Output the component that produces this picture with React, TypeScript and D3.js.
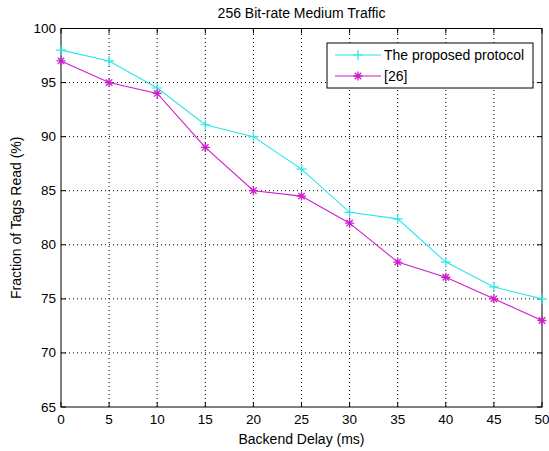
import { useEffect, useRef } from "react";
import * as d3 from "d3";

const delays = [0, 5, 10, 15, 20, 25, 30, 35, 40, 45, 50];
const proposed = [98, 97, 94.5, 91.1, 90, 87, 83, 82.4, 78.4, 76.1, 75];
const ref26 = [97, 95, 94, 89, 85, 84.5, 82, 78.4, 77, 75, 73];
const xTicks = [0, 5, 10, 15, 20, 25, 30, 35, 40, 45, 50];
const yTicks = [65, 70, 75, 80, 85, 90, 95, 100];
const seriesNames = ["The proposed protocol", "[26]"];

const W = 549;
const H = 451;
const margin = { top: 28.5, right: 7, bottom: 44, left: 61 };
const FONT = "'Liberation Sans', Arial, sans-serif";
const CYAN = "#2ae6e6";
const MAGENTA = "#cc1fcc";

export default function App() {
  const ref = useRef<SVGSVGElement>(null);

  useEffect(() => {
    const svg = d3.select(ref.current!);
    svg.selectAll("*").remove();

    const x = d3.scaleLinear().domain([0, 50]).range([margin.left, W - margin.right]);
    const y = d3.scaleLinear().domain([65, 100]).range([H - margin.bottom, margin.top]);
    const [x0, x1] = x.range();
    const [y0, y1] = y.range();

    svg.append("rect").attr("width", W).attr("height", H).attr("fill", "#fff");

    // dotted grid
    const grid = svg.append("g").attr("stroke", "#000").attr("stroke-width", 1).attr("stroke-dasharray", "1,3");
    xTicks.slice(1, -1).forEach(t => {
      grid.append("line").attr("x1", x(t)).attr("x2", x(t)).attr("y1", y0).attr("y2", y1);
    });
    yTicks.slice(1, -1).forEach(t => {
      grid.append("line").attr("x1", x0).attr("x2", x1).attr("y1", y(t)).attr("y2", y(t));
    });

    // inward ticks on all four sides
    const ticks = svg.append("g").attr("stroke", "#000").attr("stroke-width", 1);
    xTicks.forEach(t => {
      ticks.append("line").attr("x1", x(t)).attr("x2", x(t)).attr("y1", y0).attr("y2", y0 - 5);
      ticks.append("line").attr("x1", x(t)).attr("x2", x(t)).attr("y1", y1).attr("y2", y1 + 5);
    });
    yTicks.forEach(t => {
      ticks.append("line").attr("x1", x0).attr("x2", x0 + 5).attr("y1", y(t)).attr("y2", y(t));
      ticks.append("line").attr("x1", x1).attr("x2", x1 - 5).attr("y1", y(t)).attr("y2", y(t));
    });

    svg.append("rect")
      .attr("x", x0).attr("y", y1).attr("width", x1 - x0).attr("height", y0 - y1)
      .attr("fill", "none").attr("stroke", "#000").attr("stroke-width", 1);

    // tick labels
    svg.append("g").selectAll("text").data(xTicks).join("text")
      .attr("x", d => x(d)).attr("y", y0 + 17)
      .attr("text-anchor", "middle").attr("font-family", FONT).attr("font-size", 13.5)
      .text(d => d);
    svg.append("g").selectAll("text").data(yTicks).join("text")
      .attr("x", x0 - 5).attr("y", d => y(d) + 4.5)
      .attr("text-anchor", "end").attr("font-family", FONT).attr("font-size", 13.5)
      .text(d => d);

    // titles
    svg.append("text").attr("x", (x0 + x1) / 2).attr("y", 18)
      .attr("text-anchor", "middle").attr("font-family", FONT).attr("font-size", 14)
      .text("256 Bit-rate Medium Traffic");
    svg.append("text").attr("x", (x0 + x1) / 2).attr("y", 444)
      .attr("text-anchor", "middle").attr("font-family", FONT).attr("font-size", 14)
      .text("Backend Delay (ms)");
    svg.append("text").attr("transform", `translate(21,${(y0 + y1) / 2}) rotate(-90)`)
      .attr("text-anchor", "middle").attr("font-family", FONT).attr("font-size", 14)
      .text("Fraction of Tags Read (%)");

    const line = d3.line<[number, number]>().x(d => x(d[0])).y(d => y(d[1]));

    const plus = (g: d3.Selection<SVGGElement, unknown, null, undefined>, cx: number, cy: number, color: string) => {
      g.append("path").attr("d", `M${cx - 5},${cy}H${cx + 5}M${cx},${cy - 5}V${cy + 5}`)
        .attr("stroke", color).attr("stroke-width", 1.2).attr("fill", "none");
    };
    const star = (g: d3.Selection<SVGGElement, unknown, null, undefined>, cx: number, cy: number, color: string) => {
      const r = 4.5, d = 3.2;
      g.append("path")
        .attr("d", `M${cx - r},${cy}H${cx + r}M${cx},${cy - r}V${cy + r}M${cx - d},${cy - d}L${cx + d},${cy + d}M${cx - d},${cy + d}L${cx + d},${cy - d}`)
        .attr("stroke", color).attr("stroke-width", 1.3).attr("fill", "none");
    };

    const series = [
      { values: proposed, color: CYAN, marker: plus },
      { values: ref26, color: MAGENTA, marker: star },
    ];
    series.forEach(s => {
      const g = svg.append("g");
      const pts = delays.map((d, i) => [d, s.values[i]] as [number, number]);
      g.append("path").attr("d", line(pts)!).attr("fill", "none").attr("stroke", s.color).attr("stroke-width", 1.1);
      pts.forEach(p => s.marker(g, x(p[0]), y(p[1]), s.color));
    });

    // legend
    const lg = svg.append("g");
    lg.append("rect").attr("x", 327).attr("y", 43).attr("width", 206).attr("height", 45)
      .attr("fill", "#fff").attr("stroke", "#000").attr("stroke-width", 1);
    series.forEach((s, i) => {
      const ly = 55 + i * 21;
      lg.append("line").attr("x1", 335).attr("x2", 381).attr("y1", ly).attr("y2", ly)
        .attr("stroke", s.color).attr("stroke-width", 1.1);
      s.marker(lg, 358, ly, s.color);
      lg.append("text").attr("x", 384).attr("y", ly + 5)
        .attr("font-family", FONT).attr("font-size", 14).text(seriesNames[i]);
    });
  }, []);

  return (
    <svg ref={ref} width={W} height={H}
      style={{ position: "absolute", left: 0, top: 0, display: "block" }} />
  );
}
